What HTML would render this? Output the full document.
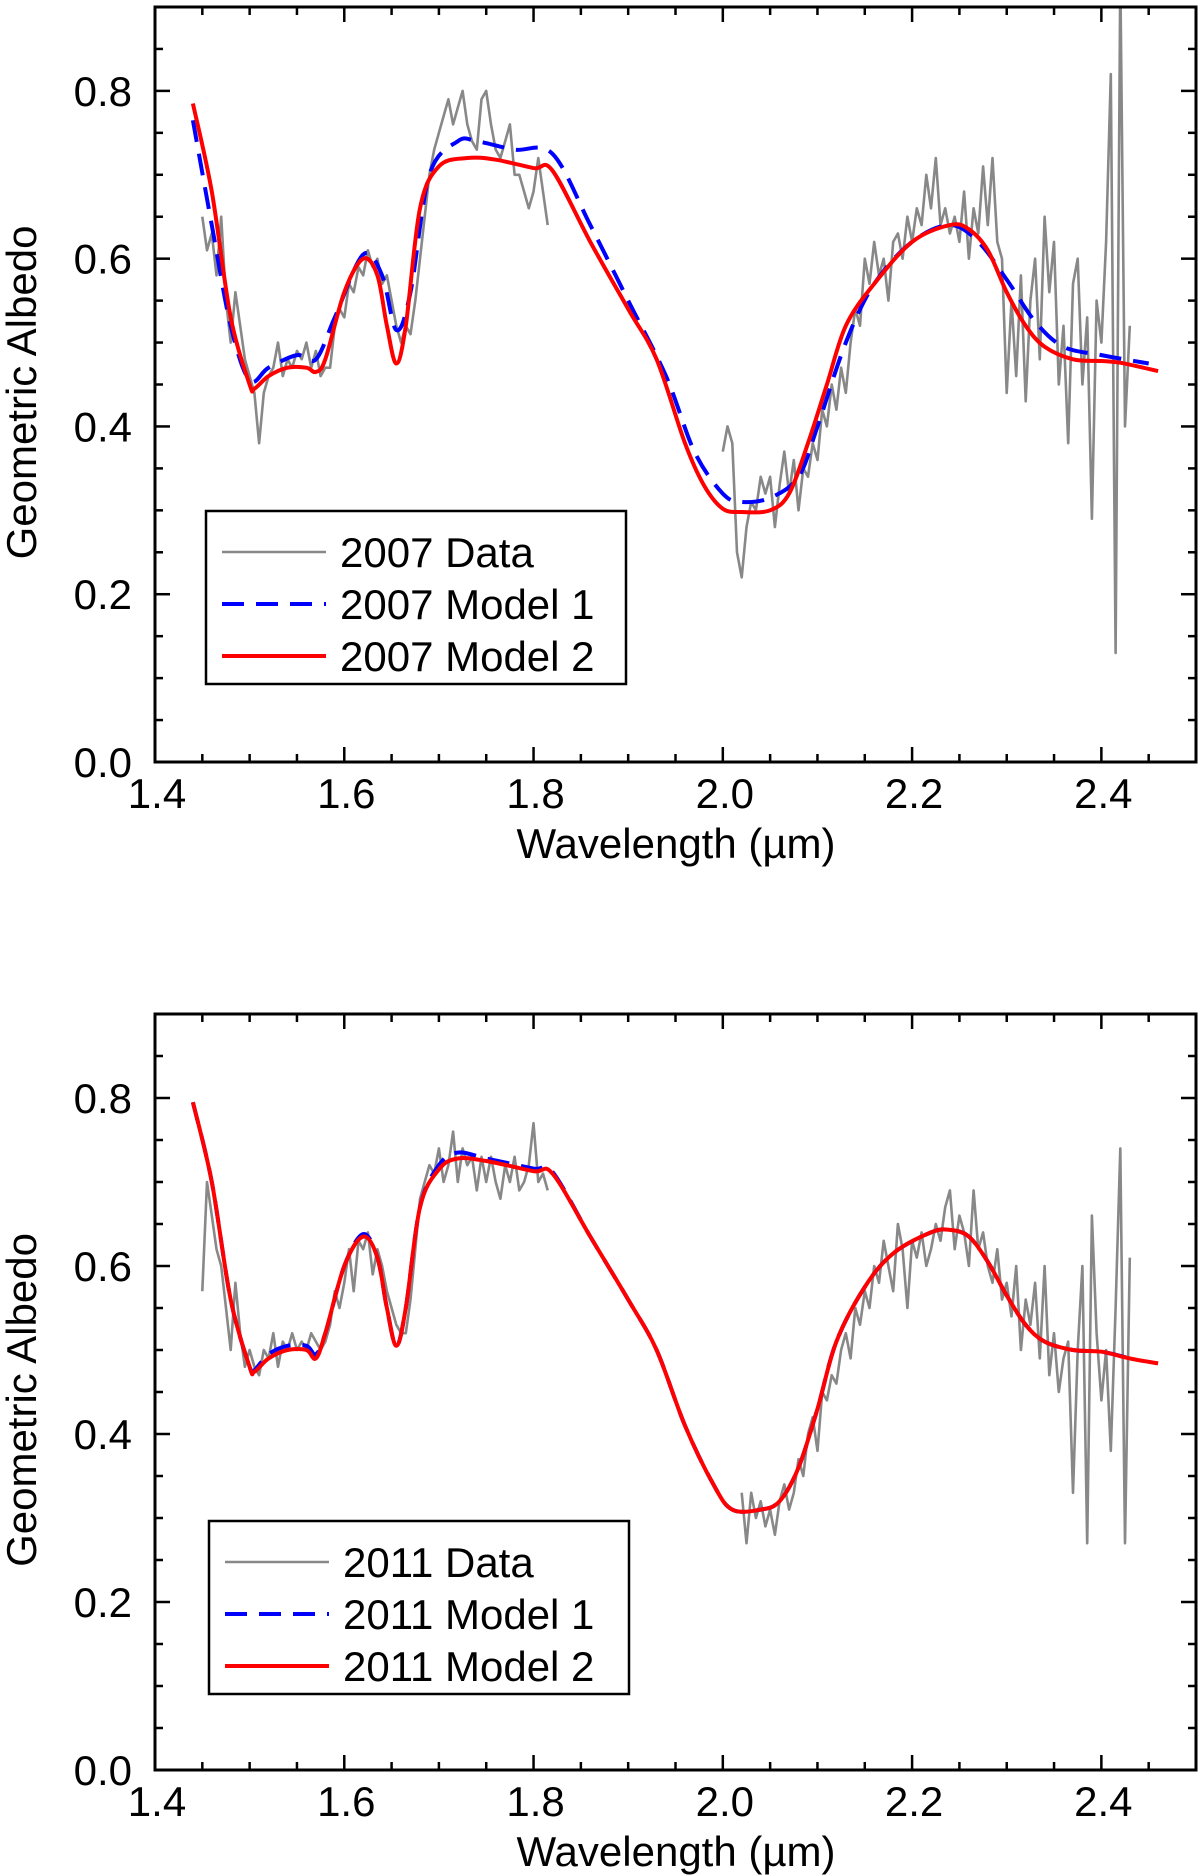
<!DOCTYPE html>
<html><head><meta charset="utf-8"><style>
html,body{margin:0;padding:0;background:#fff;}
svg{display:block;font-family:"Liberation Sans",Arial,sans-serif;}
</style></head><body>
<svg id="chart" width="1200" height="1875" viewBox="0 0 1200 1875"></svg>
<script>
// ---- 2007 data ----
const data2007aStart = 1.450, data2007aStep = 0.005;
const data2007a = [0.65,0.61,0.63,0.58,0.65,0.55,0.50,0.56,0.52,0.48,0.46,0.44,0.38,0.44,0.46,0.47,0.50,0.46,0.48,0.47,0.49,0.48,0.50,0.47,0.49,0.46,0.47,0.47,0.52,0.54,0.53,0.57,0.56,0.59,0.58,0.61,0.59,0.60,0.57,0.58,0.55,0.52,0.50,0.52,0.51,0.55,0.60,0.65,0.70,0.73,0.75,0.77,0.79,0.76,0.78,0.80,0.76,0.74,0.73,0.79,0.80,0.76,0.73,0.72,0.74,0.76,0.70,0.70,0.68,0.66,0.68,0.72,0.68,0.64];
const data2007bStart = 2.000, data2007bStep = 0.005;
const data2007b = [0.37,0.40,0.38,0.25,0.22,0.28,0.31,0.30,0.34,0.32,0.34,0.28,0.33,0.37,0.32,0.36,0.30,0.35,0.34,0.38,0.36,0.42,0.40,0.45,0.42,0.47,0.44,0.50,0.54,0.52,0.60,0.57,0.62,0.58,0.60,0.55,0.62,0.63,0.60,0.65,0.62,0.66,0.64,0.70,0.66,0.72,0.64,0.66,0.63,0.65,0.62,0.68,0.60,0.66,0.63,0.71,0.64,0.72,0.62,0.60,0.44,0.55,0.46,0.58,0.43,0.55,0.60,0.48,0.65,0.56,0.62,0.45,0.52,0.38,0.57,0.60,0.45,0.53,0.29,0.55,0.50,0.62,0.82,0.13,0.94,0.40,0.52];
const model1_2007_wl = [1.44,1.46,1.48,1.50,1.52,1.55,1.57,1.59,1.62,1.64,1.655,1.67,1.69,1.72,1.74,1.78,1.82,1.86,1.90,1.94,1.97,2.00,2.02,2.05,2.08,2.10,2.13,2.16,2.20,2.24,2.27,2.30,2.33,2.36,2.40,2.45];
const model1_2007 = [0.765,0.64,0.52,0.455,0.47,0.485,0.48,0.53,0.605,0.58,0.515,0.56,0.70,0.74,0.74,0.73,0.725,0.64,0.55,0.46,0.37,0.32,0.31,0.315,0.34,0.40,0.50,0.57,0.62,0.64,0.62,0.575,0.525,0.495,0.485,0.475];
const model2_2007_wl = [1.44,1.46,1.48,1.50,1.505,1.52,1.54,1.56,1.57,1.58,1.60,1.62,1.635,1.645,1.655,1.665,1.68,1.70,1.73,1.76,1.80,1.82,1.86,1.90,1.93,1.96,1.98,2.00,2.02,2.05,2.07,2.09,2.11,2.13,2.16,2.20,2.24,2.26,2.28,2.30,2.32,2.34,2.37,2.40,2.42,2.46];
const model2_2007 = [0.785,0.68,0.53,0.45,0.445,0.46,0.47,0.47,0.465,0.48,0.56,0.60,0.58,0.52,0.475,0.52,0.66,0.71,0.72,0.718,0.708,0.705,0.62,0.54,0.48,0.38,0.33,0.302,0.298,0.300,0.32,0.38,0.45,0.52,0.57,0.62,0.64,0.635,0.61,0.56,0.52,0.495,0.48,0.478,0.476,0.466];
// ---- 2011 data ----
const data2011aStart = 1.450, data2011aStep = 0.005;
const data2011a = [0.57,0.70,0.66,0.62,0.60,0.55,0.50,0.58,0.52,0.48,0.50,0.48,0.47,0.50,0.49,0.52,0.48,0.51,0.50,0.52,0.50,0.51,0.50,0.52,0.51,0.50,0.51,0.53,0.57,0.55,0.58,0.62,0.57,0.63,0.62,0.64,0.59,0.62,0.60,0.57,0.55,0.53,0.52,0.52,0.56,0.62,0.68,0.70,0.72,0.71,0.74,0.70,0.72,0.76,0.70,0.74,0.72,0.73,0.69,0.73,0.70,0.73,0.70,0.68,0.72,0.70,0.73,0.69,0.70,0.72,0.77,0.70,0.71,0.69];
const data2011bStart = 2.020, data2011bStep = 0.005;
const data2011b = [0.33,0.27,0.33,0.30,0.32,0.29,0.31,0.28,0.32,0.34,0.31,0.33,0.37,0.35,0.40,0.42,0.38,0.45,0.44,0.47,0.46,0.50,0.52,0.49,0.55,0.53,0.57,0.55,0.60,0.58,0.63,0.60,0.57,0.65,0.62,0.55,0.63,0.61,0.64,0.60,0.62,0.65,0.63,0.67,0.69,0.62,0.66,0.64,0.60,0.69,0.62,0.64,0.60,0.58,0.62,0.56,0.58,0.54,0.60,0.50,0.56,0.53,0.58,0.49,0.60,0.47,0.52,0.45,0.49,0.51,0.33,0.50,0.60,0.27,0.66,0.52,0.44,0.50,0.38,0.55,0.74,0.27,0.61];
const model1_2011_wl = [1.44,1.46,1.48,1.50,1.505,1.52,1.54,1.56,1.57,1.58,1.60,1.62,1.635,1.645,1.655,1.665,1.68,1.70,1.72,1.75,1.80,1.82,1.86,1.90,1.93,1.96,1.99,2.01,2.04,2.06,2.08,2.10,2.12,2.15,2.18,2.22,2.24,2.26,2.28,2.30,2.32,2.34,2.37,2.40,2.43];
const model1_2011 = [0.795,0.70,0.56,0.48,0.476,0.495,0.505,0.505,0.495,0.52,0.60,0.638,0.61,0.55,0.505,0.55,0.67,0.72,0.735,0.728,0.716,0.712,0.635,0.56,0.50,0.41,0.34,0.31,0.31,0.32,0.36,0.43,0.51,0.575,0.615,0.64,0.643,0.635,0.605,0.565,0.53,0.51,0.50,0.498,0.49];
const model2_2011_wl = [1.44,1.46,1.48,1.50,1.505,1.52,1.54,1.56,1.57,1.58,1.60,1.62,1.635,1.645,1.655,1.665,1.68,1.70,1.72,1.75,1.80,1.82,1.86,1.90,1.93,1.96,1.99,2.01,2.04,2.06,2.08,2.10,2.12,2.15,2.18,2.22,2.24,2.26,2.28,2.30,2.32,2.34,2.37,2.40,2.43,2.46];
const model2_2011 = [0.795,0.70,0.56,0.48,0.474,0.49,0.50,0.50,0.49,0.52,0.60,0.635,0.61,0.55,0.505,0.55,0.67,0.715,0.728,0.725,0.713,0.71,0.635,0.56,0.50,0.41,0.34,0.31,0.31,0.32,0.36,0.43,0.51,0.575,0.615,0.64,0.643,0.635,0.605,0.565,0.53,0.51,0.50,0.498,0.49,0.484];
const xTicks = [1.4,1.6,1.8,2.0,2.2,2.4];
const xTickLabels = ["1.4","1.6","1.8","2.0","2.2","2.4"];
const yTicks = [0.0,0.2,0.4,0.6,0.8];
const yTickLabels = ["0.0","0.2","0.4","0.6","0.8"];

const NS = "http://www.w3.org/2000/svg";
const svg = document.getElementById('chart');
function mk(tag, attrs, parent){
  const e = document.createElementNS(NS, tag);
  for (const k in attrs) e.setAttribute(k, attrs[k]);
  (parent||svg).appendChild(e);
  return e;
}
function seq(start, step, vals){ return vals.map((v,i)=>[start+step*i, v]); }
function zip(xs, ys){ return xs.map((x,i)=>[x, ys[i]]); }

function panel(p){
  const L=155, R=1196, T=p.top, B=p.bottom;
  const xmin=1.4, xmax=2.5, ymin=0, ymax=p.ymax;
  const sx = v => L + (v-xmin)/(xmax-xmin)*(R-L);
  const sy = v => B - (v-ymin)/(ymax-ymin)*(B-T);
  const g = mk('g', {});
  
  
  const clip = mk('clipPath', {id:'clip'+p.year}, g);
  mk('rect', {x:L, y:T, width:R-L, height:B-T}, clip);
  const series = mk('g', {'clip-path':'url(#clip'+p.year+')'}, g);
  function line(pts, style, name, smooth){
    const P = pts.map(q=>[sx(q[0]), sy(q[1])]);
    let d = 'M'+P[0][0].toFixed(1)+' '+P[0][1].toFixed(1);
    for (let i=1;i<P.length;i++){
      if (!smooth){ d += ' L'+P[i][0].toFixed(1)+' '+P[i][1].toFixed(1); continue; }
      const p0=P[Math.max(0,i-2)], p1=P[i-1], p2=P[i], p3=P[Math.min(P.length-1,i+1)];
      const c1=[p1[0]+(p2[0]-p0[0])/6, p1[1]+(p2[1]-p0[1])/6];
      const c2=[p2[0]-(p3[0]-p1[0])/6, p2[1]-(p3[1]-p1[1])/6];
      d += ' C'+c1[0].toFixed(1)+' '+c1[1].toFixed(1)+' '+c2[0].toFixed(1)+' '+c2[1].toFixed(1)+' '+p2[0].toFixed(1)+' '+p2[1].toFixed(1);
    }
    const el = mk('path', Object.assign({d:d, fill:'none', 'stroke-linejoin':'round'}, style), series);
    
    
  }
  const gray = {stroke:'#888', 'stroke-width':2.6};
  p.data.forEach((seg,i)=> line(seg, gray, 'data-line-'+p.year+'-seg'+(i+1), false));
  line(p.m1, {stroke:'#0000ff','stroke-width':4,'stroke-dasharray':'22 12'}, 'model1-line-'+p.year, true);
  line(p.m2, {stroke:'#ff0000','stroke-width':4}, 'model2-line-'+p.year, true);
  const box = mk('rect', {x:L, y:T, width:R-L, height:B-T, fill:'none', stroke:'#000','stroke-width':3}, g);
  
  
  for (let v=1.45; v<2.5; v+=0.05){
    const major = Math.abs(v*10 - Math.round(v*10))<1e-6 && Math.round(v*10)%2===0;
    const len = major?15:8, x=sx(v);
    mk('line',{x1:x,y1:B,x2:x,y2:B-len,stroke:'#000','stroke-width':2.5},g);
    mk('line',{x1:x,y1:T,x2:x,y2:T+len,stroke:'#000','stroke-width':2.5},g);
  }
  for (let v=0.05; v<ymax-0.001; v+=0.05){
    const major = Math.abs(v*10 - Math.round(v*10))<1e-6 && Math.round(v*10)%2===0;
    const len = major?15:8, y=sy(v);
    mk('line',{x1:L,y1:y,x2:L+len,y2:y,stroke:'#000','stroke-width':2.5},g);
    mk('line',{x1:R,y1:y,x2:R-len,y2:y,stroke:'#000','stroke-width':2.5},g);
  }
  xTicks.forEach((v,i)=>{
    const t = mk('text',{x:sx(v)+2, y:B+46, 'font-size':42, 'text-anchor':'middle', fill:'#000'}, g);
    t.textContent = xTickLabels[i];
    
    
  });
  yTicks.forEach((v,i)=>{
    const t = mk('text',{x:132, y:sy(v)+15, 'font-size':42, 'text-anchor':'end', fill:'#000'}, g);
    t.textContent = yTickLabels[i];
    
    
  });
  const xt = mk('text',{x:676, y:B+96, 'font-size':42, 'text-anchor':'middle', fill:'#000'}, g);
  xt.textContent = 'Wavelength (\u00b5m)';
  
  
  const cy = (T+B)/2+8;
  const yt = mk('text',{x:0, y:0, 'font-size':42, 'text-anchor':'middle', fill:'#000', transform:'translate(36,'+cy+') rotate(-90)'}, g);
  yt.textContent = 'Geometric Albedo';
  
  
  const lg = mk('g', {}, g);
  
  
  const lx=p.legX, ly=p.legY;
  mk('rect',{x:lx, y:ly, width:420, height:173, fill:'#fff', stroke:'#000','stroke-width':2.5}, lg);
  const rows = [[p.year+' Data', gray],[p.year+' Model 1',{stroke:'#0000ff','stroke-width':4,'stroke-dasharray':'22 12'}],[p.year+' Model 2',{stroke:'#ff0000','stroke-width':4}]];
  rows.forEach((r,i)=>{
    const y = ly+41+i*52;
    const s = mk('line', Object.assign({x1:lx+16, y1:y, x2:lx+120, y2:y}, r[1]), lg);
    
    
    const t = mk('text',{x:lx+134, y:y+15, 'font-size':42, fill:'#000'}, lg);
    t.textContent = r[0];
    
    
  });
}
panel({year:'2007', name:'panel-2007', top:7, bottom:762, ymax:0.9, legX:206, legY:511,
  data:[seq(data2007aStart,data2007aStep,data2007a), seq(data2007bStart,data2007bStep,data2007b)],
  m1:zip(model1_2007_wl,model1_2007), m2:zip(model2_2007_wl,model2_2007)});
panel({year:'2011', name:'panel-2011', top:1014, bottom:1770, ymax:0.9, legX:209, legY:1521,
  data:[seq(data2011aStart,data2011aStep,data2011a), seq(data2011bStart,data2011bStep,data2011b)],
  m1:zip(model1_2011_wl,model1_2011), m2:zip(model2_2011_wl,model2_2011)});
</script>
</body></html>
